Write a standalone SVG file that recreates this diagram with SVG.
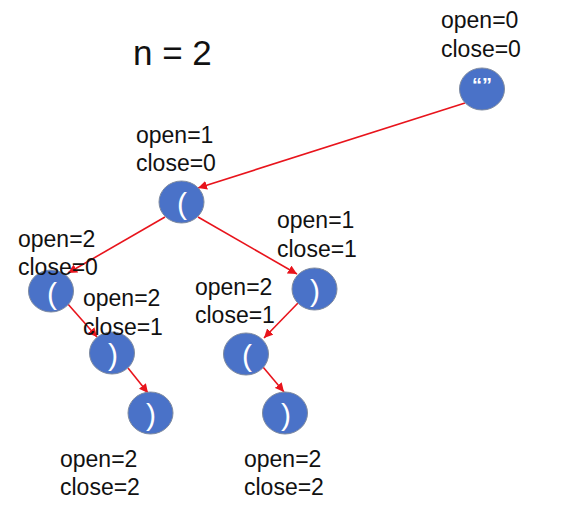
<svg xmlns="http://www.w3.org/2000/svg" width="579" height="511" viewBox="0 0 579 511">
<style>
.lbl{font-family:"Liberation Sans",Arial,sans-serif;font-size:23px;fill:#111}
.node ellipse{fill:#4a72c8;stroke:#7f8ba0;stroke-width:1}
.sym{font-family:"Liberation Sans",Arial,sans-serif;font-size:30px;fill:#fff;text-anchor:middle}
.q{font-family:"Liberation Sans",Arial,sans-serif;font-size:20px;font-weight:bold;fill:#fff;text-anchor:middle}
.edge{stroke:#e8141c;stroke-width:1.6;fill:none;marker-end:url(#ah)}
</style>
<defs>
<marker id="ah" viewBox="0 0 10 10" refX="10" refY="5" markerWidth="9" markerHeight="9" markerUnits="userSpaceOnUse" orient="auto">
<path d="M0,0 L10,5 L0,10 z" fill="#e8141c"/>
</marker>
</defs>
<rect width="579" height="511" fill="#fff"/>
<text class="lbl" x="133" y="65" style="font-size:35px">n = 2</text>
<g id="connectors">
<line class="edge" x1="465" y1="103" x2="198" y2="188"/>
<line class="edge" x1="198" y1="217" x2="297" y2="274"/>
<line class="edge" x1="165" y1="217" x2="68" y2="273"/>
<line class="edge" x1="67" y1="303" x2="97" y2="337"/>
<line class="edge" x1="128" y1="368" x2="148" y2="393"/>
<line class="edge" x1="298" y1="303" x2="264" y2="338"/>
<line class="edge" x1="263" y1="367" x2="284" y2="392"/>
</g>
<g id="root" class="node">
<ellipse cx="482" cy="89" rx="22.5" ry="21"/>
<text class="q" x="482" y="92">“”</text>
<text class="lbl" x="441" y="28">open=0</text>
<text class="lbl" x="441" y="57">close=0</text>
</g>
<g id="n1" class="node">
<ellipse cx="181.5" cy="202" rx="22.5" ry="21"/>
<text class="sym" x="182" y="214">(</text>
<text class="lbl" x="136" y="143">open=1</text>
<text class="lbl" x="136" y="171">close=0</text>
</g>
<g id="n2" class="node">
<ellipse cx="314.5" cy="289" rx="22.5" ry="21"/>
<text class="sym" x="315" y="301">)</text>
<text class="lbl" x="277" y="228">open=1</text>
<text class="lbl" x="277" y="257">close=1</text>
</g>
<g id="n3" class="node">
<ellipse cx="51" cy="291" rx="22.5" ry="21"/>
<text class="sym" x="52" y="304">(</text>
<text class="lbl" x="18" y="247">open=2</text>
<text class="lbl" x="18" y="275">close=0</text>
</g>
<g id="n4" class="node">
<ellipse cx="112" cy="353" rx="22.5" ry="21"/>
<text class="sym" x="113" y="365">)</text>
<text class="lbl" x="83" y="306">open=2</text>
<text class="lbl" x="83" y="335">close=1</text>
</g>
<g id="n5" class="node">
<ellipse cx="150.5" cy="413" rx="22.5" ry="21"/>
<text class="sym" x="151" y="425">)</text>
<text class="lbl" x="60" y="467">open=2</text>
<text class="lbl" x="60" y="495">close=2</text>
</g>
<g id="n6" class="node">
<ellipse cx="246" cy="354" rx="22.5" ry="21"/>
<text class="sym" x="247" y="366">(</text>
<text class="lbl" x="195" y="295">open=2</text>
<text class="lbl" x="195" y="323">close=1</text>
</g>
<g id="n7" class="node">
<ellipse cx="285" cy="413" rx="22.5" ry="21"/>
<text class="sym" x="286" y="425">)</text>
<text class="lbl" x="244" y="467">open=2</text>
<text class="lbl" x="244" y="495">close=2</text>
</g>
</svg>
